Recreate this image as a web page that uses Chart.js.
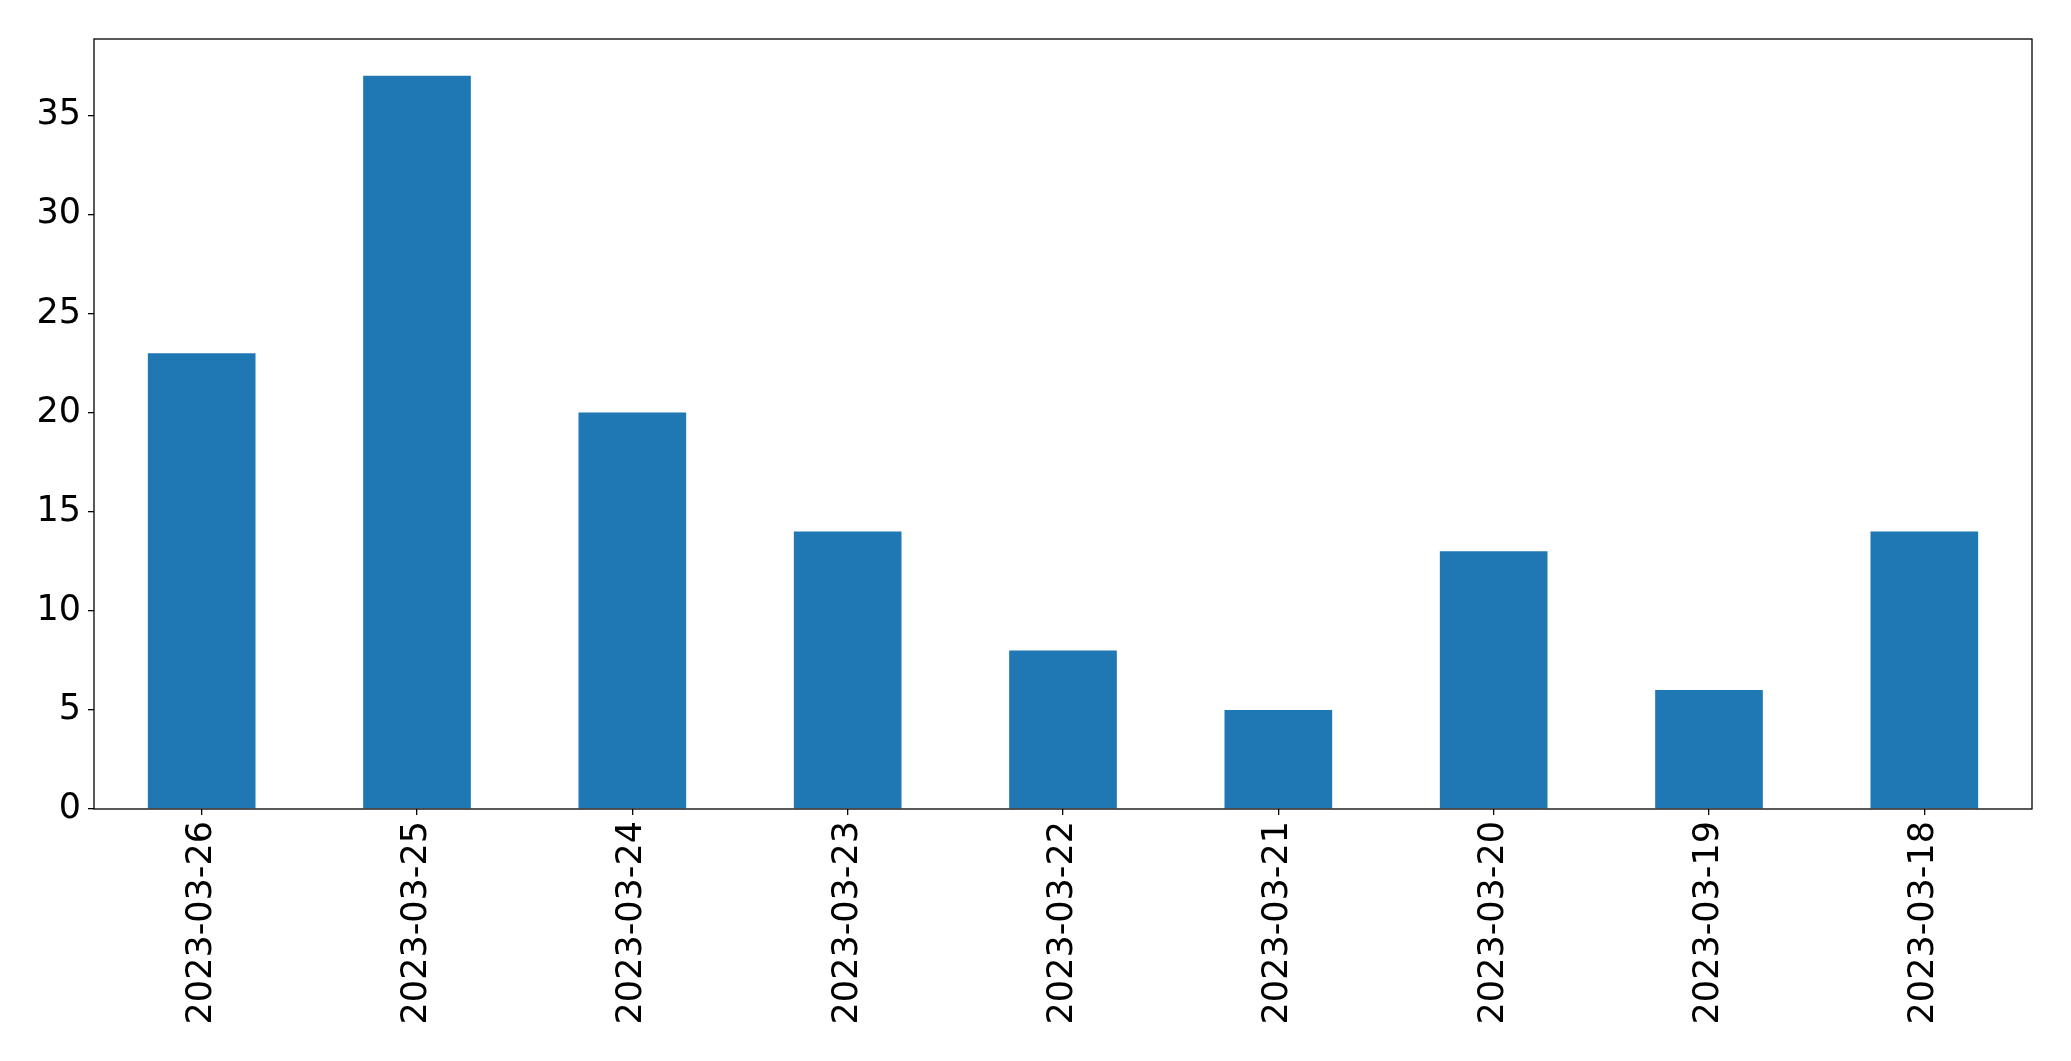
<!DOCTYPE html>
<html>
<head>
<meta charset="utf-8">
<script src="https://cdn.jsdelivr.net/npm/chart.js@4/dist/chart.umd.min.js"></script>
<style>
  html, body { margin: 0; padding: 0; background: #fff; }
  #wrap { width: 2071px; height: 1061px; }
</style>
</head>
<body>
<div id="wrap"><canvas id="grafica" width="2071" height="1061"></canvas></div>
<script>
// --- DATOS ---
const fechas = ['2023-03-26', '2023-03-25', '2023-03-24', '2023-03-23', '2023-03-22',
                '2023-03-21', '2023-03-20', '2023-03-19', '2023-03-18'];
const conteos = [23, 37, 20, 14, 8, 5, 13, 6, 14];
const ticksY = [0, 5, 10, 15, 20, 25, 30, 35];
const maxY = 38.85;

// marco completo alrededor del área (estilo matplotlib)
const marco = {
    id: 'marco',
    afterDraw(chart) {
        const a = chart.chartArea;
        const ctx = chart.ctx;
        ctx.save();
        ctx.strokeStyle = '#000';
        ctx.lineWidth = 1.3;
        ctx.strokeRect(a.left, a.top, a.right - a.left, a.bottom - a.top);
        ctx.restore();
    }
};

Chart.defaults.font.family = "'DejaVu Sans', sans-serif";
Chart.defaults.color = '#000';

new Chart(document.getElementById('grafica').getContext('2d'), {
    type: 'bar',
    data: {
        labels: fechas,
        datasets: [{
            data: conteos,
            backgroundColor: '#1f77b4',
            borderWidth: 0,
            barPercentage: 0.5,
            categoryPercentage: 1.0
        }]
    },
    options: {
        responsive: false,
        animation: false,
        layout: { padding: { top: 39, right: 39, left: 0, bottom: 0 } },
        plugins: { legend: { display: false }, tooltip: { enabled: false } },
        scales: {
            x: {
                grid: { offset: false, drawOnChartArea: false, drawTicks: true, tickLength: 6, color: '#000', lineWidth: 1.3 },
                border: { display: false },
                ticks: { minRotation: 90, maxRotation: 90, autoSkip: false, padding: 6, font: { size: 35 } },
                afterFit(s) { s.height = 252; }
            },
            y: {
                min: 0,
                max: maxY,
                grid: { drawOnChartArea: false, drawTicks: true, tickLength: 6, color: '#000', lineWidth: 1.3 },
                border: { display: false },
                afterBuildTicks(s) { s.ticks = ticksY.map(v => ({ value: v })); },
                ticks: { padding: 7, font: { size: 35 } },
                afterFit(s) { s.width = 94; }
            }
        }
    },
    plugins: [marco]
});
</script>
</body>
</html>
